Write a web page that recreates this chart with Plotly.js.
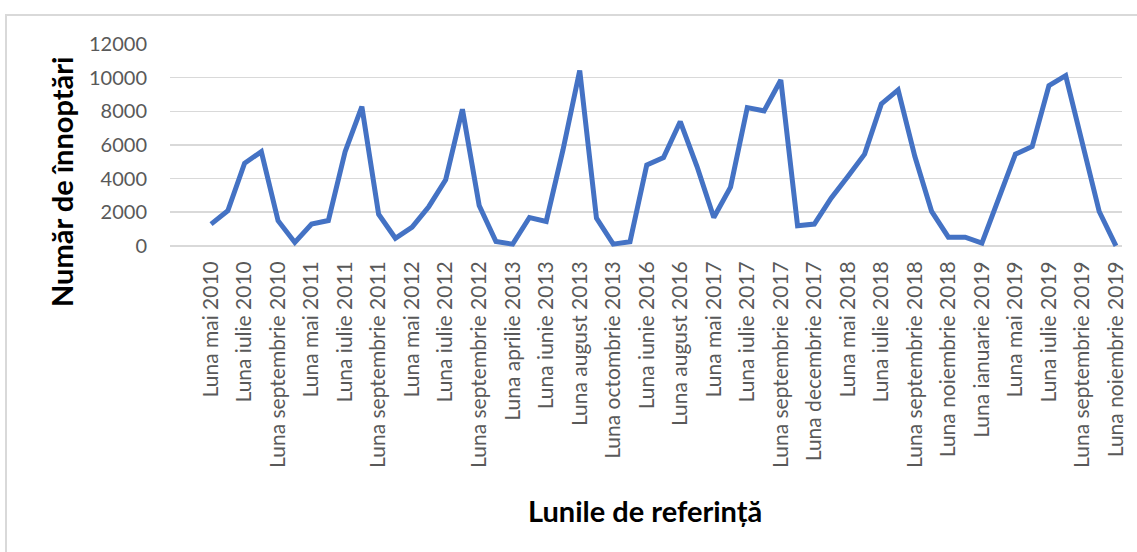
<!DOCTYPE html>
<html>
<head>
<meta charset="utf-8">
<script src="https://cdn.plot.ly/plotly-3.0.1.min.js"></script>
<style>
  html, body { margin: 0; padding: 0; background: #fff; }
  #wrap { position: relative; width: 1137px; height: 552px; overflow: hidden; }
  #chart { position: absolute; left: 0; top: 0; width: 1137px; height: 552px; }
  #frame { position: absolute; left: 5px; top: 14px; width: 1140px; height: 560px;
           border-top: 2px solid #d9d9d9; border-left: 2px solid #d9d9d9; pointer-events: none; }
</style>
</head>
<body>
<div id="wrap"><div id="chart"></div><div id="frame"></div></div>
<script>
// Categories (reference months)
const months = [
  "Luna mai 2010", "Luna iunie 2010", "Luna iulie 2010", "Luna august 2010", "Luna septembrie 2010", "Luna octombrie 2010",
  "Luna mai 2011", "Luna iunie 2011", "Luna iulie 2011", "Luna august 2011", "Luna septembrie 2011", "Luna octombrie 2011",
  "Luna mai 2012", "Luna iunie 2012", "Luna iulie 2012", "Luna august 2012", "Luna septembrie 2012", "Luna octombrie 2012",
  "Luna aprilie 2013", "Luna mai 2013", "Luna iunie 2013", "Luna iulie 2013", "Luna august 2013", "Luna septembrie 2013", "Luna octombrie 2013",
  "Luna mai 2016", "Luna iunie 2016", "Luna iulie 2016", "Luna august 2016", "Luna septembrie 2016",
  "Luna mai 2017", "Luna iunie 2017", "Luna iulie 2017", "Luna august 2017", "Luna septembrie 2017", "Luna octombrie 2017", "Luna decembrie 2017",
  "Luna aprilie 2018", "Luna mai 2018", "Luna iunie 2018", "Luna iulie 2018", "Luna august 2018", "Luna septembrie 2018", "Luna octombrie 2018",
  "Luna noiembrie 2018", "Luna decembrie 2018", "Luna ianuarie 2019", "Luna aprilie 2019",
  "Luna mai 2019", "Luna iunie 2019", "Luna iulie 2019", "Luna august 2019", "Luna septembrie 2019", "Luna octombrie 2019", "Luna noiembrie 2019"
];

// Number of overnight stays
const nights = [
  1290, 2080, 4910, 5600, 1490, 200,
  1290, 1500, 5600, 8280, 1880, 450,
  1110, 2340, 3920, 8120, 2400, 250,
  100, 1680, 1450, 5700, 10420, 1640, 100,
  240, 4810, 5250, 7390, 4710,
  1680, 3490, 8220, 8020, 9860, 1190, 1290,
  2830, 4120, 5450, 8440, 9270, 5310, 2040,
  515, 515, 160, 2730,
  5450, 5900, 9530, 10120, 6100, 2040, 0
];

// Labels shown on the axis (every other category)
const shownLabels = months.filter((m, i) => i % 2 === 0);

// Y axis ticks
const yTicks = [0, 2000, 4000, 6000, 8000, 10000, 12000];

const trace = {
  type: "scatter",
  mode: "lines",
  x: months,
  y: nights,
  line: { color: "#4472C4", width: 5 },
  hoverinfo: "x+y"
};

const layout = {
  width: 1137,
  height: 552,
  paper_bgcolor: "rgba(0,0,0,0)",
  plot_bgcolor: "rgba(0,0,0,0)",
  margin: { l: 170, r: 15, t: 44, b: 302 },
  showlegend: false,
  font: { family: "Lato, 'Open Sans', sans-serif", color: "#595959" },
  xaxis: {
    type: "category",
    range: [-2.45, 54.36],
    tickmode: "array",
    tickvals: shownLabels,
    ticktext: shownLabels,
    tickangle: -90,
    tickfont: { size: 21, color: "#595959", family: "Lato, 'Open Sans', sans-serif" },
    showgrid: false,
    zeroline: false,
    showline: false,
    ticks: "",
    ticklabelstandoff: 6
  },
  yaxis: {
    range: [-250, 12000],
    tickmode: "array",
    tickvals: yTicks,
    ticktext: yTicks.map(String),
    tickfont: { size: 20, color: "#595959", family: "Lato, 'Open Sans', sans-serif" },
    showgrid: true,
    gridcolor: "#d9d9d9",
    gridwidth: 1.5,
    zeroline: false,
    showline: false,
    ticks: "",
    ticklabelstandoff: 22
  },
  annotations: [
    {
      text: "<b>Număr de înnoptări</b>",
      xref: "paper", yref: "paper",
      x: (62 - 170) / 952, y: (552 - 302 - 182) / 206,
      xanchor: "center", yanchor: "middle",
      textangle: -90, showarrow: false,
      font: { size: 29, color: "#000000", family: "Lato, 'Open Sans', sans-serif" }
    },
    {
      text: "<b>Lunile de referință</b>",
      xref: "paper", yref: "paper",
      x: (645 - 170) / 952, y: -(510 - 250) / 206,
      xanchor: "center", yanchor: "middle",
      showarrow: false,
      font: { size: 29, color: "#000000", family: "Lato, 'Open Sans', sans-serif" }
    }
  ]
};

Plotly.newPlot("chart", [trace], layout, { displayModeBar: false, staticPlot: true });
</script>
</body>
</html>
